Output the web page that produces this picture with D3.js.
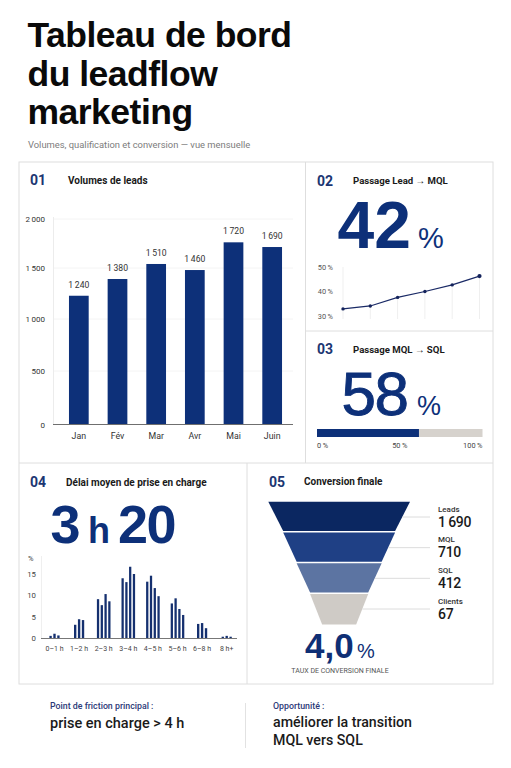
<!DOCTYPE html>
<html lang="fr">
<head>
<meta charset="utf-8">
<title>Tableau de bord du leadflow marketing</title>
<script src="https://cdn.jsdelivr.net/npm/d3@7"></script>
<style>
  html, body { margin: 0; padding: 0; background: #fff; }
  svg { display: block; }
  text { font-family: Roboto, "Liberation Sans", sans-serif; }
  .big { font-family: "Liberation Sans", Arial, sans-serif; }
</style>
</head>
<body>
<div id="chart"></div>
<script>
const months = ["Jan", "Fév", "Mar", "Avr", "Mai", "Juin"];
const leadLabels = [1240, 1380, 1510, 1460, 1720, 1690];
// bar heights as drawn in the picture, they sit a little off the printed labels
const leadBars = [1228, 1392, 1541, 1480, 1762, 1714];
const leadTicks = [0, 500, 1000, 1500, 2000];

const mqlRates = [32.9, 34.1, 37.6, 40, 42.7, 46.3];
const mqlTicks = [30, 40, 50];

const sqlFill = 61.6;
const sqlTicks = [0, 50, 100];

const delayBuckets = ["0–1 h", "1–2 h", "2–3 h", "3–4 h", "4–5 h", "5–6 h", "6–8 h", "8 h+"];
const delayShares = [
  [0.5, 1, 0.6],
  [3.1, 4.4, 4.2],
  [9.1, 7.7, 10.3, 8.6],
  [14, 13.1, 16.7, 15],
  [13.2, 14.6, 11.7, 9.8],
  [8.1, 9.3, 6.8, 5.4],
  [3.3, 3.5, 2.3],
  [0.3, 0.5, 0.3]
];
const delayTicks = [0, 5, 10, 15];

const funnelStages = ["Leads", "MQL", "SQL", "Clients"];
const funnelCounts = [1690, 710, 412, 67];
const funnelWidths = [100, 79, 60, 41, 24];
const funnelColors = ["#0b2761", "#1f4085", "#5c74a2", "#cfcbc6"];

const NAVY = "#0d3079";
const fr = d3.formatLocale({ decimal: ",", thousands: "\u2009", grouping: [3], currency: ["", " €"] });
const fmt = fr.format(",d");

const svg = d3.select("#chart").append("svg")
  .attr("width", 511)
  .attr("height", 768)
  .attr("viewBox", "0 0 511 768");

function label(x, y, str, size, weight, fill, anchor) {
  return svg.append("text")
    .attr("x", x)
    .attr("y", y)
    .attr("font-size", size)
    .attr("font-weight", weight)
    .attr("fill", fill)
    .attr("text-anchor", anchor || "start")
    .text(str);
}

function big(x, y, str, size, weight, fill) {
  return label(x, y, str, size, weight, fill).attr("class", "big");
}

function rule(x1, y1, x2, y2, color) {
  svg.append("line")
    .attr("x1", x1).attr("y1", y1)
    .attr("x2", x2).attr("y2", y2)
    .attr("stroke", color)
    .attr("stroke-width", 1);
}

// Title
big(27.5, 47, "Tableau de bord", 35.5, 700, "#0a0a0a").attr("letter-spacing", -0.5);
big(27.5, 85.5, "du leadflow", 35.5, 700, "#0a0a0a").attr("letter-spacing", -0.5);
big(27.5, 124, "marketing", 35.5, 700, "#0a0a0a").attr("letter-spacing", -0.5);
label(28, 147.5, "Volumes, qualification et conversion — vue mensuelle", 9.4, 400, "#7c7c7c");

// Panel frame
const FRAME = "#dedede";
svg.append("rect")
  .attr("x", 19).attr("y", 162)
  .attr("width", 474).attr("height", 522)
  .attr("fill", "none")
  .attr("stroke", FRAME);
rule(305.5, 162, 305.5, 463, FRAME);
rule(19, 463, 493, 463, FRAME);
rule(305.5, 331, 493, 331, FRAME);
rule(247, 463, 247, 684, FRAME);

function panelHead(numX, titleX, y, num, title, size) {
  label(numX, y + 5, num, 14, 700, "#1c3672");
  label(titleX, y + 3.5, title, size || 10, 700, "#1a1a1a");
}
panelHead(30, 68, 180, "01", "Volumes de leads");
panelHead(317, 353, 180.5, "02", "Passage Lead → MQL", 9.6);
panelHead(317, 353, 349, "03", "Passage MQL → SQL", 9.6);
panelHead(30, 66, 482, "04", "Délai moyen de prise en charge");
panelHead(269, 304, 481.5, "05", "Conversion finale");

function cleanAxis(g, size, color) {
  g.selectAll(".tick line").remove();
  g.select(".domain").remove();
  g.selectAll("text")
    .attr("font-size", size)
    .attr("fill", color);
}

// 01 volumes
const xLeads = d3.scaleBand().domain(months).range([59.5, 291.5]).paddingInner(0.49).paddingOuter(0.245);
const yLeads = d3.scaleLinear().domain(leadTicks).range([424.5, 371, 319, 268, 219]);

svg.append("g").selectAll("line")
  .data(leadTicks.slice(1))
  .enter().append("line")
  .attr("x1", 53).attr("x2", 293)
  .attr("y1", d => yLeads(d)).attr("y2", d => yLeads(d))
  .attr("stroke", "#f4f4f4");
rule(53.5, 217, 53.5, 424, "#ececec");

svg.append("g").selectAll("rect")
  .data(leadBars)
  .enter().append("rect")
  .attr("x", (d, i) => xLeads(months[i]))
  .attr("y", d => yLeads(d))
  .attr("width", xLeads.bandwidth())
  .attr("height", d => yLeads(0) - yLeads(d))
  .attr("fill", NAVY);

svg.append("g").selectAll("text")
  .data(leadLabels)
  .enter().append("text")
  .attr("x", (d, i) => xLeads(months[i]) + xLeads.bandwidth() / 2)
  .attr("y", (d, i) => yLeads(leadBars[i]) - 8)
  .attr("text-anchor", "middle")
  .attr("font-size", 8.6)
  .attr("fill", "#333")
  .text(d => fmt(d));

svg.append("g")
  .attr("transform", "translate(53,0)")
  .call(d3.axisLeft(yLeads).tickValues(leadTicks).tickFormat(fmt).tickSize(0).tickPadding(8))
  .call(g => cleanAxis(g, 8, "#333"));

svg.append("g")
  .attr("transform", "translate(0,424.5)")
  .call(d3.axisBottom(xLeads).tickSize(0).tickPadding(8))
  .call(g => cleanAxis(g, 8.8, "#333"));
rule(53, 424.5, 293, 424.5, "#6f6f6f");

// 02 lead to mql
big(337.5, 248, "42", 66, 700, NAVY);
big(418, 248, "%", 29, 400, NAVY);

const xMql = d3.scalePoint().domain(months).range([343, 479.5]);
const yMql = d3.scaleLinear().domain([30, 50]).range([316, 267]);

svg.append("g").selectAll("line")
  .data(months)
  .enter().append("line")
  .attr("x1", d => xMql(d)).attr("x2", d => xMql(d))
  .attr("y1", (d, i) => i === 0 ? 267 : yMql(mqlRates[i]))
  .attr("y2", 319)
  .attr("stroke", "#efefef");

svg.append("g")
  .attr("transform", "translate(340,0)")
  .call(d3.axisLeft(yMql).tickValues(mqlTicks).tickFormat(d => d + "\u2009%").tickSize(0).tickPadding(7))
  .call(g => cleanAxis(g, 7.4, "#555"));

const mqlLine = d3.line()
  .x((d, i) => xMql(months[i]))
  .y(d => yMql(d));
svg.append("path")
  .datum(mqlRates)
  .attr("d", mqlLine)
  .attr("fill", "none")
  .attr("stroke", "#1a2a66")
  .attr("stroke-width", 1.2);
svg.append("g").selectAll("circle")
  .data(mqlRates)
  .enter().append("circle")
  .attr("cx", (d, i) => xMql(months[i]))
  .attr("cy", d => yMql(d))
  .attr("r", (d, i) => i === 5 ? 2.1 : 1.7)
  .attr("fill", "#14235c");

// 03 mql to sql
big(341.5, 415, "58", 62, 400, NAVY)
  .attr("stroke", NAVY)
  .attr("stroke-width", 0.9)
  .attr("letter-spacing", -1.5);
big(417, 415, "%", 27, 400, NAVY);

const xSql = d3.scaleLinear().domain([0, 100]).range([317, 482.5]);
svg.append("rect")
  .attr("x", xSql(0)).attr("y", 429)
  .attr("width", xSql(100) - xSql(0)).attr("height", 8)
  .attr("fill", "#d6d2cd");
svg.append("rect")
  .attr("x", xSql(0)).attr("y", 429)
  .attr("width", xSql(sqlFill) - xSql(0)).attr("height", 8)
  .attr("fill", NAVY);
svg.append("g").selectAll("text")
  .data(sqlTicks)
  .enter().append("text")
  .attr("x", d => xSql(d))
  .attr("y", 447.5)
  .attr("text-anchor", d => d === 0 ? "start" : d === 100 ? "end" : "middle")
  .attr("font-size", 7.4)
  .attr("fill", "#444")
  .text(d => d + "\u2009%");

// 04 delay
big(50.5, 543, "3", 54, 700, NAVY).attr("letter-spacing", -1);
big(88, 543, "h", 36, 700, NAVY);
big(118, 543, "20", 54, 700, NAVY).attr("letter-spacing", -1.5);

const xDelay = d3.scaleBand().domain(delayBuckets).range([42.2, 239]);
const yDelay = d3.scaleLinear().domain([0, 15]).range([638, 574]);

delayShares.forEach((shares, b) => {
  const inner = d3.scaleBand()
    .domain(d3.range(shares.length))
    .range([-shares.length * 1.7, shares.length * 1.7])
    .paddingInner(0.4);
  svg.append("g")
    .attr("transform", `translate(${xDelay(delayBuckets[b]) + xDelay.bandwidth() / 2},0)`)
    .selectAll("rect")
    .data(shares)
    .enter().append("rect")
    .attr("x", (d, i) => inner(i))
    .attr("y", d => yDelay(d))
    .attr("width", inner.bandwidth())
    .attr("height", d => yDelay(0) - yDelay(d))
    .attr("fill", "#15306f");
});

rule(41.5, 556, 41.5, 638, "#efefef");
svg.append("g")
  .attr("transform", "translate(41,0)")
  .call(d3.axisLeft(yDelay).tickValues(delayTicks).tickSize(0).tickPadding(5))
  .call(g => cleanAxis(g, 7.8, "#444"));
label(28, 560.5, "%", 7.5, 400, "#444");

svg.append("g")
  .attr("transform", "translate(0,638)")
  .call(d3.axisBottom(xDelay).tickSize(0).tickPadding(8))
  .call(g => cleanAxis(g, 7, "#444"));
rule(41, 638.5, 237, 638.5, "#777");

// 05 funnel
const xFunnel = d3.scaleLinear().domain([-100, 100]).range([268.3, 410]);
const yFunnel = d3.scaleBand().domain(funnelStages).range([501.7, 624.6]);
const yCallout = d3.scalePoint().domain(funnelStages).range([517, 609]);
const trapeze = d3.line().x(d => xFunnel(d[0])).y(d => d[1]);

svg.append("g").selectAll("path")
  .data(funnelStages)
  .enter().append("path")
  .attr("d", (d, i) => {
    const y0 = yFunnel(d);
    const y1 = y0 + yFunnel.bandwidth() - (i < 3 ? 1.4 : 0);
    const w0 = funnelWidths[i];
    const w1 = funnelWidths[i + 1];
    return trapeze([[-w0, y0], [w0, y0], [w1, y1], [-w1, y1]]) + "Z";
  })
  .attr("fill", (d, i) => funnelColors[i]);

const leaders = funnelStages.map((s, i) => {
  const t = (yCallout(s) - yFunnel(s)) / yFunnel.bandwidth();
  const w = funnelWidths[i] + (funnelWidths[i + 1] - funnelWidths[i]) * t;
  return { x: xFunnel(w), y: yCallout(s) };
});
svg.append("g").selectAll("line")
  .data(leaders)
  .enter().append("line")
  .attr("x1", d => d.x).attr("x2", 430)
  .attr("y1", d => d.y).attr("y2", d => d.y)
  .attr("stroke", "#dcdcdc");

svg.append("g").selectAll("text")
  .data(funnelStages)
  .enter().append("text")
  .attr("x", 438)
  .attr("y", d => yCallout(d) - 5.5)
  .attr("font-size", 8)
  .attr("font-weight", 500)
  .attr("fill", "#333")
  .text(d => d);
svg.append("g").selectAll("text")
  .data(funnelCounts)
  .enter().append("text")
  .attr("x", 438)
  .attr("y", (d, i) => yCallout(funnelStages[i]) + 9.5)
  .attr("font-size", 14)
  .attr("font-weight", 500)
  .attr("letter-spacing", -0.3)
  .attr("fill", "#1a1a1a")
  .text(d => fmt(d));

big(305, 657.5, "4,0", 35, 700, "#0f2f75");
big(357, 657.5, "%", 20, 400, "#0f2f75");
label(340, 672.5, "TAUX DE CONVERSION FINALE", 7, 400, "#555", "middle");

// Bottom notes
label(50, 708.5, "Point de friction principal :", 8.8, 500, "#2c3a78");
label(50, 728, "prise en charge > 4 h", 14.5, 500, "#1a1a1a");
rule(245.5, 703, 245.5, 748, "#e2e2e2");
label(273, 708.5, "Opportunité :", 8.8, 500, "#2c3a78");
label(273, 727, "améliorer la transition", 14.2, 500, "#1a1a1a");
label(273, 745, "MQL vers SQL", 14.2, 500, "#1a1a1a");
</script>
</body>
</html>
